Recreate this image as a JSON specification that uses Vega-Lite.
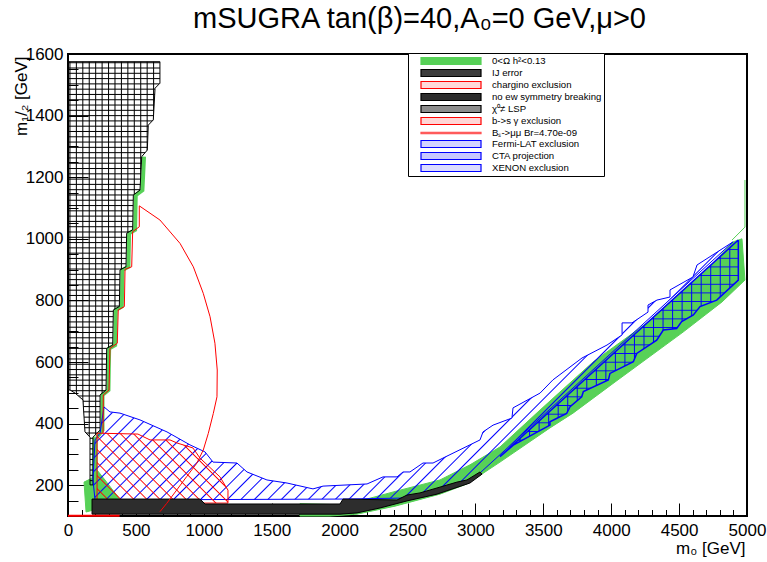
{
  "$schema": "https://vega.github.io/schema/vega-lite/v6.json",
  "width": 679,
  "height": 462,
  "autosize": {"type": "none"},
  "padding": {"left": 68, "top": 54, "right": 20, "bottom": 46},
  "background": "white",
  "title": {
    "text": "mSUGRA tan(β)=40,A₀=0 GeV,μ>0",
    "font": "Liberation Sans",
    "fontSize": 29,
    "fontWeight": "normal",
    "color": "#000",
    "anchor": "middle",
    "frame": "group",
    "baseline": "alphabetic",
    "offset": 22,
    "dx": 12,
    "dy": 34
  },
  "config": {
    "font": "Liberation Sans",
    "view": {"stroke": "#000", "strokeWidth": 2},
    "axis": {
      "domain": false,
      "grid": false,
      "tickColor": "#000",
      "tickWidth": 1,
      "labelFont": "Liberation Sans",
      "labelFontSize": 17,
      "labelColor": "#000",
      "titleFont": "Liberation Sans",
      "titleFontSize": 17,
      "titleFontWeight": "normal",
      "titleColor": "#000",
      "labelOverlap": false,
      "labelFlush": false
    }
  },
  "datasets": {
    "legend": [
      {"label": "0<Ω h²<0.13"},
      {"label": "IJ error"},
      {"label": "chargino exclusion"},
      {"label": "no ew symmetry breaking"},
      {"label": "χ⁰≠ LSP"},
      {"label": "b->s γ exclusion"},
      {"label": "Bₛ->μμ Br=4.70e-09"},
      {"label": "Fermi-LAT exclusion"},
      {"label": "CTA projection"},
      {"label": "XENON exclusion"}
    ],
    "poly": [
      {"r":"band","i":0,"x":1708,"y":140},{"r":"band","i":1,"x":2040,"y":136},{"r":"band","i":2,"x":2445,"y":184},{"r":"band","i":3,"x":2739,"y":217},{"r":"band","i":4,"x":2960,"y":266},{"r":"band","i":5,"x":3181,"y":324},{"r":"band","i":6,"x":3476,"y":444},{"r":"band","i":7,"x":3866,"y":600},{"r":"band","i":8,"x":4264,"y":727},{"r":"band","i":9,"x":4529,"y":834},{"r":"band","i":10,"x":4750,"y":921},{"r":"band","i":11,"x":4897,"y":990},{"r":"band","i":12,"x":4963,"y":1000},{"r":"band","i":13,"x":4985,"y":866},{"r":"band","i":14,"x":4816,"y":795},{"r":"band","i":15,"x":4529,"y":697},{"r":"band","i":16,"x":4028,"y":535},{"r":"band","i":17,"x":3719,"y":434},{"r":"band","i":18,"x":3549,"y":386},{"r":"band","i":19,"x":3181,"y":275},{"r":"band","i":20,"x":2938,"y":204},{"r":"band","i":21,"x":2739,"y":171},{"r":"band","i":22,"x":2408,"y":132},{"r":"band","i":23,"x":2128,"y":106},{"r":"band","i":24,"x":1929,"y":100},{"r":"band","i":25,"x":1708,"y":100},{"r":"band","i":26,"x":1708,"y":140},
      {"r":"greenB","i":0,"x":184,"y":356},{"r":"greenB","i":1,"x":214,"y":356},{"r":"greenB","i":2,"x":214,"y":249},{"r":"greenB","i":3,"x":272,"y":217},{"r":"greenB","i":4,"x":368,"y":162},{"r":"greenB","i":5,"x":383,"y":142},{"r":"greenB","i":6,"x":133,"y":113},{"r":"greenB","i":7,"x":118,"y":210},{"r":"greenB","i":8,"x":177,"y":223},{"r":"greenB","i":9,"x":184,"y":356},
      {"r":"gEdge","i":0,"x":560,"y":1267},{"r":"gEdge","i":1,"x":548,"y":1158},{"r":"gEdge","i":2,"x":499,"y":1142},{"r":"gEdge","i":3,"x":494,"y":1029},{"r":"gEdge","i":4,"x":450,"y":1018},{"r":"gEdge","i":5,"x":445,"y":909},{"r":"gEdge","i":6,"x":401,"y":899},{"r":"gEdge","i":7,"x":396,"y":780},{"r":"gEdge","i":8,"x":352,"y":769},{"r":"gEdge","i":9,"x":347,"y":655},{"r":"gEdge","i":10,"x":303,"y":644},{"r":"gEdge","i":11,"x":298,"y":509},{"r":"gEdge","i":12,"x":254,"y":493},{"r":"gEdge","i":13,"x":254,"y":379},{"r":"gEdge","i":14,"x":214,"y":356},
      {"r":"gThin","i":0,"x":4890,"y":996},{"r":"gThin","i":1,"x":4985,"y":1038},{"r":"gThin","i":2,"x":4985,"y":1191},
      {"r":"IJ","i":0,"x":0,"y":1575},{"r":"IJ","i":1,"x":677,"y":1575},{"r":"IJ","i":2,"x":677,"y":1505},{"r":"IJ","i":3,"x":641,"y":1489},{"r":"IJ","i":4,"x":628,"y":1386},{"r":"IJ","i":5,"x":591,"y":1369},{"r":"IJ","i":6,"x":584,"y":1288},{"r":"IJ","i":7,"x":543,"y":1267},{"r":"IJ","i":8,"x":530,"y":1158},{"r":"IJ","i":9,"x":481,"y":1142},{"r":"IJ","i":10,"x":476,"y":1029},{"r":"IJ","i":11,"x":432,"y":1018},{"r":"IJ","i":12,"x":427,"y":909},{"r":"IJ","i":13,"x":383,"y":899},{"r":"IJ","i":14,"x":378,"y":780},{"r":"IJ","i":15,"x":334,"y":769},{"r":"IJ","i":16,"x":329,"y":655},{"r":"IJ","i":17,"x":285,"y":644},{"r":"IJ","i":18,"x":280,"y":509},{"r":"IJ","i":19,"x":236,"y":493},{"r":"IJ","i":20,"x":236,"y":379},{"r":"IJ","i":21,"x":184,"y":356},{"r":"IJ","i":22,"x":184,"y":201},{"r":"IJ","i":23,"x":162,"y":201},{"r":"IJ","i":24,"x":162,"y":356},{"r":"IJ","i":25,"x":125,"y":373},{"r":"IJ","i":26,"x":110,"y":477},{"r":"IJ","i":27,"x":52,"y":499},{"r":"IJ","i":28,"x":15,"y":509},{"r":"IJ","i":29,"x":0,"y":509},{"r":"IJ","i":30,"x":0,"y":1575},
      {"r":"XENON","i":0,"x":265,"y":454},{"r":"XENON","i":1,"x":309,"y":438},{"r":"XENON","i":2,"x":383,"y":434},{"r":"XENON","i":3,"x":530,"y":412},{"r":"XENON","i":4,"x":729,"y":373},{"r":"XENON","i":5,"x":898,"y":331},{"r":"XENON","i":6,"x":1009,"y":308},{"r":"XENON","i":7,"x":1068,"y":275},{"r":"XENON","i":8,"x":1244,"y":272},{"r":"XENON","i":9,"x":1318,"y":243},{"r":"XENON","i":10,"x":1465,"y":217},{"r":"XENON","i":11,"x":1613,"y":207},{"r":"XENON","i":12,"x":1804,"y":188},{"r":"XENON","i":13,"x":1878,"y":197},{"r":"XENON","i":14,"x":2202,"y":204},{"r":"XENON","i":15,"x":2320,"y":227},{"r":"XENON","i":16,"x":2423,"y":227},{"r":"XENON","i":17,"x":2467,"y":243},{"r":"XENON","i":18,"x":2518,"y":243},{"r":"XENON","i":19,"x":2614,"y":272},{"r":"XENON","i":20,"x":2688,"y":272},{"r":"XENON","i":21,"x":2761,"y":288},{"r":"XENON","i":22,"x":3034,"y":347},{"r":"XENON","i":23,"x":3056,"y":373},{"r":"XENON","i":24,"x":3130,"y":395},{"r":"XENON","i":25,"x":3269,"y":418},{"r":"XENON","i":26,"x":3277,"y":451},{"r":"XENON","i":27,"x":3476,"y":499},{"r":"XENON","i":28,"x":3571,"y":542},{"r":"XENON","i":29,"x":3785,"y":613},{"r":"XENON","i":30,"x":3969,"y":655},{"r":"XENON","i":31,"x":4080,"y":688},{"r":"XENON","i":32,"x":4080,"y":727},{"r":"XENON","i":33,"x":4153,"y":727},{"r":"XENON","i":34,"x":4271,"y":762},{"r":"XENON","i":35,"x":4271,"y":785},{"r":"XENON","i":36,"x":4337,"y":801},{"r":"XENON","i":37,"x":4433,"y":811},{"r":"XENON","i":38,"x":4433,"y":834},{"r":"XENON","i":39,"x":4602,"y":876},{"r":"XENON","i":40,"x":4632,"y":915},{"r":"XENON","i":41,"x":4897,"y":990},{"r":"XENON","i":42,"x":2960,"y":210},{"r":"XENON","i":43,"x":2739,"y":178},{"r":"XENON","i":44,"x":2445,"y":158},{"r":"XENON","i":45,"x":2025,"y":155},{"r":"XENON","i":46,"x":236,"y":152},{"r":"XENON","i":47,"x":199,"y":152},{"r":"XENON","i":48,"x":184,"y":217},{"r":"XENON","i":49,"x":199,"y":347},{"r":"XENON","i":50,"x":236,"y":369},{"r":"XENON","i":51,"x":265,"y":454},
      {"r":"bsg","i":0,"x":214,"y":369},{"r":"bsg","i":1,"x":515,"y":366},{"r":"bsg","i":2,"x":604,"y":347},{"r":"bsg","i":3,"x":751,"y":347},{"r":"bsg","i":4,"x":803,"y":337},{"r":"bsg","i":5,"x":920,"y":321},{"r":"bsg","i":6,"x":972,"y":288},{"r":"bsg","i":7,"x":1119,"y":227},{"r":"bsg","i":8,"x":1178,"y":184},{"r":"bsg","i":9,"x":1178,"y":142},{"r":"bsg","i":10,"x":214,"y":142},{"r":"bsg","i":11,"x":214,"y":369},
      {"r":"Fermi","i":0,"x":4936,"y":996},{"r":"Fermi","i":1,"x":3181,"y":293},{"r":"Fermi","i":2,"x":3279,"y":330},{"r":"Fermi","i":3,"x":3549,"y":395},{"r":"Fermi","i":4,"x":3549,"y":406},{"r":"Fermi","i":5,"x":3672,"y":433},{"r":"Fermi","i":6,"x":3697,"y":455},{"r":"Fermi","i":7,"x":3783,"y":487},{"r":"Fermi","i":8,"x":3795,"y":504},{"r":"Fermi","i":9,"x":3979,"y":542},{"r":"Fermi","i":10,"x":3991,"y":563},{"r":"Fermi","i":11,"x":4163,"y":601},{"r":"Fermi","i":12,"x":4188,"y":628},{"r":"Fermi","i":13,"x":4335,"y":671},{"r":"Fermi","i":14,"x":4384,"y":704},{"r":"Fermi","i":15,"x":4482,"y":709},{"r":"Fermi","i":16,"x":4519,"y":731},{"r":"Fermi","i":17,"x":4605,"y":753},{"r":"Fermi","i":18,"x":4654,"y":780},{"r":"Fermi","i":19,"x":4777,"y":801},{"r":"Fermi","i":20,"x":4936,"y":866},{"r":"Fermi","i":21,"x":4936,"y":996},
      {"r":"CTA","i":0,"x":4936,"y":996},{"r":"CTA","i":1,"x":3181,"y":293},{"r":"CTA","i":2,"x":3279,"y":330},{"r":"CTA","i":3,"x":3549,"y":395},{"r":"CTA","i":4,"x":3549,"y":406},{"r":"CTA","i":5,"x":3672,"y":433},{"r":"CTA","i":6,"x":3697,"y":455},{"r":"CTA","i":7,"x":3783,"y":487},{"r":"CTA","i":8,"x":3795,"y":504},{"r":"CTA","i":9,"x":3979,"y":542},{"r":"CTA","i":10,"x":3991,"y":563},{"r":"CTA","i":11,"x":4163,"y":601},{"r":"CTA","i":12,"x":4188,"y":628},{"r":"CTA","i":13,"x":4335,"y":671},{"r":"CTA","i":14,"x":4384,"y":704},{"r":"CTA","i":15,"x":4482,"y":709},{"r":"CTA","i":16,"x":4519,"y":731},{"r":"CTA","i":17,"x":4605,"y":753},{"r":"CTA","i":18,"x":4654,"y":780},{"r":"CTA","i":19,"x":4777,"y":801},{"r":"CTA","i":20,"x":4936,"y":866},{"r":"CTA","i":21,"x":4936,"y":996},
      {"r":"noEW","i":0,"x":177,"y":155},{"r":"noEW","i":1,"x":972,"y":155},{"r":"noEW","i":2,"x":1009,"y":139},{"r":"noEW","i":3,"x":2003,"y":139},{"r":"noEW","i":4,"x":2025,"y":155},{"r":"noEW","i":5,"x":2423,"y":152},{"r":"noEW","i":6,"x":2496,"y":168},{"r":"noEW","i":7,"x":2592,"y":175},{"r":"noEW","i":8,"x":2717,"y":191},{"r":"noEW","i":9,"x":2864,"y":210},{"r":"noEW","i":10,"x":2938,"y":217},{"r":"noEW","i":11,"x":3034,"y":243},{"r":"noEW","i":12,"x":3049,"y":236},{"r":"noEW","i":13,"x":2960,"y":207},{"r":"noEW","i":14,"x":2717,"y":171},{"r":"noEW","i":15,"x":2496,"y":149},{"r":"noEW","i":16,"x":2297,"y":126},{"r":"noEW","i":17,"x":2128,"y":110},{"r":"noEW","i":18,"x":2003,"y":106},{"r":"noEW","i":19,"x":177,"y":106},{"r":"noEW","i":20,"x":177,"y":155},
      {"r":"Bs","i":0,"x":258,"y":369},{"r":"Bs","i":1,"x":260,"y":493},{"r":"Bs","i":2,"x":302,"y":509},{"r":"Bs","i":3,"x":309,"y":644},{"r":"Bs","i":4,"x":363,"y":661},{"r":"Bs","i":5,"x":370,"y":769},{"r":"Bs","i":6,"x":415,"y":780},{"r":"Bs","i":7,"x":420,"y":901},{"r":"Bs","i":8,"x":469,"y":909},{"r":"Bs","i":9,"x":476,"y":1023},{"r":"Bs","i":10,"x":525,"y":1039},{"r":"Bs","i":11,"x":525,"y":1107},{"r":"Bs","i":12,"x":677,"y":1061},{"r":"Bs","i":13,"x":825,"y":985},{"r":"Bs","i":14,"x":923,"y":909},{"r":"Bs","i":15,"x":996,"y":823},{"r":"Bs","i":16,"x":1046,"y":747},{"r":"Bs","i":17,"x":1082,"y":661},{"r":"Bs","i":18,"x":1099,"y":574},{"r":"Bs","i":19,"x":1097,"y":487},{"r":"Bs","i":20,"x":1070,"y":433},{"r":"Bs","i":21,"x":1033,"y":368},{"r":"Bs","i":22,"x":996,"y":314},{"r":"Bs","i":23,"x":948,"y":271},{"r":"Bs","i":24,"x":874,"y":228},{"r":"Bs","i":25,"x":800,"y":184},{"r":"Bs","i":26,"x":727,"y":141},{"r":"Bs","i":27,"x":677,"y":114},
      {"r":"chargino","i":0,"x":0,"y":101},{"r":"chargino","i":1,"x":380,"y":101}
    ]
  },
  "data": {"name": "poly"},
  "encoding": {
    "x": {
      "field": "x",
      "type": "quantitative",
      "scale": {"domain": [0, 5000], "nice": false, "zero": false},
      "axis": {
        "title": "m₀ [GeV]",
        "values": [0,100,200,300,400,500,600,700,800,900,1000,1100,1200,1300,1400,1500,1600,1700,1800,1900,2000,2100,2200,2300,2400,2500,2600,2700,2800,2900,3000,3100,3200,3300,3400,3500,3600,3700,3800,3900,4000,4100,4200,4300,4400,4500,4600,4700,4800,4900,5000],
        "format": "d",
        "labelExpr": "datum.value % 500 === 0 ? datum.label : ''",
        "tickSize": -13,
        "tickDash": {"condition": {"test": "datum.value % 500 !== 0", "value": [6.5, 40]}, "value": [13, 40]},
        "labelPadding": 19,
        "titleX": 677,
        "titleY": 37,
        "titleAlign": "right",
        "titleBaseline": "alphabetic"
      }
    },
    "y": {
      "field": "y",
      "type": "quantitative",
      "scale": {"domain": [100, 1600], "nice": false, "zero": false},
      "axis": {
        "title": "m₁/₂ [GeV]",
        "values": [100,150,200,250,300,350,400,450,500,550,600,650,700,750,800,850,900,950,1000,1050,1100,1150,1200,1250,1300,1350,1400,1450,1500,1550,1600],
        "format": "d",
        "labelExpr": "datum.value % 200 === 0 ? datum.label : ''",
        "tickSize": -20,
        "tickDash": {"condition": {"test": "datum.value % 200 !== 0", "value": [10, 40]}, "value": [20, 40]},
        "labelPadding": 25,
        "titleX": -42,
        "titleY": 2,
        "titleAngle": 270,
        "titleAlign": "right",
        "titleBaseline": "alphabetic"
      }
    }
  },
  "layer": [
    {
      "transform": [{"filter": "datum.r === 'band'"}],
      "mark": {"type": "line", "fill": "#57d157", "stroke": "#57d157", "strokeWidth": 1},
      "encoding": {"order": {"field": "i", "type": "quantitative"}}
    },
    {
      "transform": [{"filter": "datum.r === 'greenB'"}],
      "mark": {"type": "line", "fill": "#57d157", "stroke": "#57d157", "strokeWidth": 1},
      "encoding": {"order": {"field": "i", "type": "quantitative"}}
    },
    {
      "transform": [{"filter": "datum.r === 'gEdge'"}],
      "mark": {"type": "line", "stroke": "#57d157", "strokeWidth": 4},
      "encoding": {"order": {"field": "i", "type": "quantitative"}}
    },
    {
      "transform": [{"filter": "datum.r === 'gThin'"}],
      "mark": {"type": "line", "stroke": "#57d157", "strokeWidth": 1},
      "encoding": {"order": {"field": "i", "type": "quantitative"}}
    },
    {
      "transform": [{"filter": "datum.r === 'IJ'"}],
      "mark": {
        "type": "line", "stroke": "#000", "strokeWidth": 1,
        "fill": {"gradient": "linear", "x1": 0, "y1": 0, "x2": 1, "y2": 0, "stops": [
          {"offset":0.01,"color":"#0000"},{"offset":0.021,"color":"#000"},{"offset":0.032,"color":"#0000"},
          {"offset":0.08,"color":"#0000"},{"offset":0.091,"color":"#000"},{"offset":0.102,"color":"#0000"},
          {"offset":0.15,"color":"#0000"},{"offset":0.161,"color":"#000"},{"offset":0.172,"color":"#0000"},
          {"offset":0.22,"color":"#0000"},{"offset":0.231,"color":"#000"},{"offset":0.242,"color":"#0000"},
          {"offset":0.29,"color":"#0000"},{"offset":0.301,"color":"#000"},{"offset":0.312,"color":"#0000"},
          {"offset":0.36,"color":"#0000"},{"offset":0.371,"color":"#000"},{"offset":0.382,"color":"#0000"},
          {"offset":0.43,"color":"#0000"},{"offset":0.441,"color":"#000"},{"offset":0.452,"color":"#0000"},
          {"offset":0.5,"color":"#0000"},{"offset":0.511,"color":"#000"},{"offset":0.522,"color":"#0000"},
          {"offset":0.57,"color":"#0000"},{"offset":0.581,"color":"#000"},{"offset":0.592,"color":"#0000"},
          {"offset":0.64,"color":"#0000"},{"offset":0.651,"color":"#000"},{"offset":0.662,"color":"#0000"},
          {"offset":0.71,"color":"#0000"},{"offset":0.721,"color":"#000"},{"offset":0.732,"color":"#0000"},
          {"offset":0.78,"color":"#0000"},{"offset":0.791,"color":"#000"},{"offset":0.802,"color":"#0000"},
          {"offset":0.85,"color":"#0000"},{"offset":0.861,"color":"#000"},{"offset":0.872,"color":"#0000"},
          {"offset":0.92,"color":"#0000"},{"offset":0.931,"color":"#000"},{"offset":0.942,"color":"#0000"}
        ]}
      },
      "encoding": {"order": {"field": "i", "type": "quantitative"}}
    },
    {
      "transform": [{"filter": "datum.r === 'IJ'"}],
      "mark": {
        "type": "line", "strokeOpacity": 0,
        "fill": {"gradient": "linear", "x1": 0, "y1": 0, "x2": 0, "y2": 1, "stops": [
          {"offset":0,"color":"#0000"},{"offset":0.0024,"color":"#000"},{"offset":0.0048,"color":"#0000"},
          {"offset":0.0125,"color":"#0000"},{"offset":0.0149,"color":"#000"},{"offset":0.0173,"color":"#0000"},
          {"offset":0.025,"color":"#0000"},{"offset":0.0274,"color":"#000"},{"offset":0.0298,"color":"#0000"},
          {"offset":0.0375,"color":"#0000"},{"offset":0.0399,"color":"#000"},{"offset":0.0423,"color":"#0000"},
          {"offset":0.05,"color":"#0000"},{"offset":0.0524,"color":"#000"},{"offset":0.0548,"color":"#0000"},
          {"offset":0.0625,"color":"#0000"},{"offset":0.0649,"color":"#000"},{"offset":0.0673,"color":"#0000"},
          {"offset":0.075,"color":"#0000"},{"offset":0.0774,"color":"#000"},{"offset":0.0798,"color":"#0000"},
          {"offset":0.0875,"color":"#0000"},{"offset":0.0899,"color":"#000"},{"offset":0.0923,"color":"#0000"},
          {"offset":0.1,"color":"#0000"},{"offset":0.1024,"color":"#000"},{"offset":0.1048,"color":"#0000"},
          {"offset":0.1125,"color":"#0000"},{"offset":0.1149,"color":"#000"},{"offset":0.1173,"color":"#0000"},
          {"offset":0.125,"color":"#0000"},{"offset":0.1274,"color":"#000"},{"offset":0.1298,"color":"#0000"},
          {"offset":0.1375,"color":"#0000"},{"offset":0.1399,"color":"#000"},{"offset":0.1423,"color":"#0000"},
          {"offset":0.15,"color":"#0000"},{"offset":0.1524,"color":"#000"},{"offset":0.1548,"color":"#0000"},
          {"offset":0.1625,"color":"#0000"},{"offset":0.1649,"color":"#000"},{"offset":0.1673,"color":"#0000"},
          {"offset":0.175,"color":"#0000"},{"offset":0.1774,"color":"#000"},{"offset":0.1798,"color":"#0000"},
          {"offset":0.1875,"color":"#0000"},{"offset":0.1899,"color":"#000"},{"offset":0.1923,"color":"#0000"},
          {"offset":0.2,"color":"#0000"},{"offset":0.2024,"color":"#000"},{"offset":0.2048,"color":"#0000"},
          {"offset":0.2125,"color":"#0000"},{"offset":0.2149,"color":"#000"},{"offset":0.2173,"color":"#0000"},
          {"offset":0.225,"color":"#0000"},{"offset":0.2274,"color":"#000"},{"offset":0.2298,"color":"#0000"},
          {"offset":0.2375,"color":"#0000"},{"offset":0.2399,"color":"#000"},{"offset":0.2423,"color":"#0000"},
          {"offset":0.25,"color":"#0000"},{"offset":0.2524,"color":"#000"},{"offset":0.2548,"color":"#0000"},
          {"offset":0.2625,"color":"#0000"},{"offset":0.2649,"color":"#000"},{"offset":0.2673,"color":"#0000"},
          {"offset":0.275,"color":"#0000"},{"offset":0.2774,"color":"#000"},{"offset":0.2798,"color":"#0000"},
          {"offset":0.2875,"color":"#0000"},{"offset":0.2899,"color":"#000"},{"offset":0.2923,"color":"#0000"},
          {"offset":0.3,"color":"#0000"},{"offset":0.3024,"color":"#000"},{"offset":0.3048,"color":"#0000"},
          {"offset":0.3125,"color":"#0000"},{"offset":0.3149,"color":"#000"},{"offset":0.3173,"color":"#0000"},
          {"offset":0.325,"color":"#0000"},{"offset":0.3274,"color":"#000"},{"offset":0.3298,"color":"#0000"},
          {"offset":0.3375,"color":"#0000"},{"offset":0.3399,"color":"#000"},{"offset":0.3423,"color":"#0000"},
          {"offset":0.35,"color":"#0000"},{"offset":0.3524,"color":"#000"},{"offset":0.3548,"color":"#0000"},
          {"offset":0.3625,"color":"#0000"},{"offset":0.3649,"color":"#000"},{"offset":0.3673,"color":"#0000"},
          {"offset":0.375,"color":"#0000"},{"offset":0.3774,"color":"#000"},{"offset":0.3798,"color":"#0000"},
          {"offset":0.3875,"color":"#0000"},{"offset":0.3899,"color":"#000"},{"offset":0.3923,"color":"#0000"},
          {"offset":0.4,"color":"#0000"},{"offset":0.4024,"color":"#000"},{"offset":0.4048,"color":"#0000"},
          {"offset":0.4125,"color":"#0000"},{"offset":0.4149,"color":"#000"},{"offset":0.4173,"color":"#0000"},
          {"offset":0.425,"color":"#0000"},{"offset":0.4274,"color":"#000"},{"offset":0.4298,"color":"#0000"},
          {"offset":0.4375,"color":"#0000"},{"offset":0.4399,"color":"#000"},{"offset":0.4423,"color":"#0000"},
          {"offset":0.45,"color":"#0000"},{"offset":0.4524,"color":"#000"},{"offset":0.4548,"color":"#0000"},
          {"offset":0.4625,"color":"#0000"},{"offset":0.4649,"color":"#000"},{"offset":0.4673,"color":"#0000"},
          {"offset":0.475,"color":"#0000"},{"offset":0.4774,"color":"#000"},{"offset":0.4798,"color":"#0000"},
          {"offset":0.4875,"color":"#0000"},{"offset":0.4899,"color":"#000"},{"offset":0.4923,"color":"#0000"},
          {"offset":0.5,"color":"#0000"},{"offset":0.5024,"color":"#000"},{"offset":0.5048,"color":"#0000"},
          {"offset":0.5125,"color":"#0000"},{"offset":0.5149,"color":"#000"},{"offset":0.5173,"color":"#0000"},
          {"offset":0.525,"color":"#0000"},{"offset":0.5274,"color":"#000"},{"offset":0.5298,"color":"#0000"},
          {"offset":0.5375,"color":"#0000"},{"offset":0.5399,"color":"#000"},{"offset":0.5423,"color":"#0000"},
          {"offset":0.55,"color":"#0000"},{"offset":0.5524,"color":"#000"},{"offset":0.5548,"color":"#0000"},
          {"offset":0.5625,"color":"#0000"},{"offset":0.5649,"color":"#000"},{"offset":0.5673,"color":"#0000"},
          {"offset":0.575,"color":"#0000"},{"offset":0.5774,"color":"#000"},{"offset":0.5798,"color":"#0000"},
          {"offset":0.5875,"color":"#0000"},{"offset":0.5899,"color":"#000"},{"offset":0.5923,"color":"#0000"},
          {"offset":0.6,"color":"#0000"},{"offset":0.6024,"color":"#000"},{"offset":0.6048,"color":"#0000"},
          {"offset":0.6125,"color":"#0000"},{"offset":0.6149,"color":"#000"},{"offset":0.6173,"color":"#0000"},
          {"offset":0.625,"color":"#0000"},{"offset":0.6274,"color":"#000"},{"offset":0.6298,"color":"#0000"},
          {"offset":0.6375,"color":"#0000"},{"offset":0.6399,"color":"#000"},{"offset":0.6423,"color":"#0000"},
          {"offset":0.65,"color":"#0000"},{"offset":0.6524,"color":"#000"},{"offset":0.6548,"color":"#0000"},
          {"offset":0.6625,"color":"#0000"},{"offset":0.6649,"color":"#000"},{"offset":0.6673,"color":"#0000"},
          {"offset":0.675,"color":"#0000"},{"offset":0.6774,"color":"#000"},{"offset":0.6798,"color":"#0000"},
          {"offset":0.6875,"color":"#0000"},{"offset":0.6899,"color":"#000"},{"offset":0.6923,"color":"#0000"},
          {"offset":0.7,"color":"#0000"},{"offset":0.7024,"color":"#000"},{"offset":0.7048,"color":"#0000"},
          {"offset":0.7125,"color":"#0000"},{"offset":0.7149,"color":"#000"},{"offset":0.7173,"color":"#0000"},
          {"offset":0.725,"color":"#0000"},{"offset":0.7274,"color":"#000"},{"offset":0.7298,"color":"#0000"},
          {"offset":0.7375,"color":"#0000"},{"offset":0.7399,"color":"#000"},{"offset":0.7423,"color":"#0000"},
          {"offset":0.75,"color":"#0000"},{"offset":0.7524,"color":"#000"},{"offset":0.7548,"color":"#0000"},
          {"offset":0.7625,"color":"#0000"},{"offset":0.7649,"color":"#000"},{"offset":0.7673,"color":"#0000"},
          {"offset":0.775,"color":"#0000"},{"offset":0.7774,"color":"#000"},{"offset":0.7798,"color":"#0000"},
          {"offset":0.7875,"color":"#0000"},{"offset":0.7899,"color":"#000"},{"offset":0.7923,"color":"#0000"},
          {"offset":0.8,"color":"#0000"},{"offset":0.8024,"color":"#000"},{"offset":0.8048,"color":"#0000"},
          {"offset":0.8125,"color":"#0000"},{"offset":0.8149,"color":"#000"},{"offset":0.8173,"color":"#0000"},
          {"offset":0.825,"color":"#0000"},{"offset":0.8274,"color":"#000"},{"offset":0.8298,"color":"#0000"},
          {"offset":0.8375,"color":"#0000"},{"offset":0.8399,"color":"#000"},{"offset":0.8423,"color":"#0000"},
          {"offset":0.85,"color":"#0000"},{"offset":0.8524,"color":"#000"},{"offset":0.8548,"color":"#0000"},
          {"offset":0.8625,"color":"#0000"},{"offset":0.8649,"color":"#000"},{"offset":0.8673,"color":"#0000"},
          {"offset":0.875,"color":"#0000"},{"offset":0.8774,"color":"#000"},{"offset":0.8798,"color":"#0000"},
          {"offset":0.8875,"color":"#0000"},{"offset":0.8899,"color":"#000"},{"offset":0.8923,"color":"#0000"},
          {"offset":0.9,"color":"#0000"},{"offset":0.9024,"color":"#000"},{"offset":0.9048,"color":"#0000"},
          {"offset":0.9125,"color":"#0000"},{"offset":0.9149,"color":"#000"},{"offset":0.9173,"color":"#0000"},
          {"offset":0.925,"color":"#0000"},{"offset":0.9274,"color":"#000"},{"offset":0.9298,"color":"#0000"},
          {"offset":0.9375,"color":"#0000"},{"offset":0.9399,"color":"#000"},{"offset":0.9423,"color":"#0000"},
          {"offset":0.95,"color":"#0000"},{"offset":0.9524,"color":"#000"},{"offset":0.9548,"color":"#0000"},
          {"offset":0.9625,"color":"#0000"},{"offset":0.9649,"color":"#000"},{"offset":0.9673,"color":"#0000"},
          {"offset":0.975,"color":"#0000"},{"offset":0.9774,"color":"#000"},{"offset":0.9798,"color":"#0000"},
          {"offset":0.9875,"color":"#0000"},{"offset":0.9899,"color":"#000"},{"offset":0.9923,"color":"#0000"}
        ]}
      },
      "encoding": {"order": {"field": "i", "type": "quantitative"}}
    },
    {
      "transform": [{"filter": "datum.r === 'XENON'"}],
      "mark": {
        "type": "line", "stroke": "#00f", "strokeWidth": 1,
        "fill": {"gradient": "linear", "x1": 0, "y1": 0, "x2": 1.207, "y2": 0.487, "stops": [
          {"offset":0,"color":"#00f0"},{"offset":0.0016,"color":"#00f"},{"offset":0.0032,"color":"#00f0"},
          {"offset":0.015,"color":"#00f0"},{"offset":0.0166,"color":"#00f"},{"offset":0.0182,"color":"#00f0"},
          {"offset":0.03,"color":"#00f0"},{"offset":0.0316,"color":"#00f"},{"offset":0.0332,"color":"#00f0"},
          {"offset":0.045,"color":"#00f0"},{"offset":0.0466,"color":"#00f"},{"offset":0.0482,"color":"#00f0"},
          {"offset":0.06,"color":"#00f0"},{"offset":0.0616,"color":"#00f"},{"offset":0.0632,"color":"#00f0"},
          {"offset":0.075,"color":"#00f0"},{"offset":0.0766,"color":"#00f"},{"offset":0.0782,"color":"#00f0"},
          {"offset":0.09,"color":"#00f0"},{"offset":0.0916,"color":"#00f"},{"offset":0.0932,"color":"#00f0"},
          {"offset":0.105,"color":"#00f0"},{"offset":0.1066,"color":"#00f"},{"offset":0.1082,"color":"#00f0"},
          {"offset":0.12,"color":"#00f0"},{"offset":0.1216,"color":"#00f"},{"offset":0.1232,"color":"#00f0"},
          {"offset":0.135,"color":"#00f0"},{"offset":0.1366,"color":"#00f"},{"offset":0.1382,"color":"#00f0"},
          {"offset":0.15,"color":"#00f0"},{"offset":0.1516,"color":"#00f"},{"offset":0.1532,"color":"#00f0"},
          {"offset":0.165,"color":"#00f0"},{"offset":0.1666,"color":"#00f"},{"offset":0.1682,"color":"#00f0"},
          {"offset":0.18,"color":"#00f0"},{"offset":0.1816,"color":"#00f"},{"offset":0.1832,"color":"#00f0"},
          {"offset":0.195,"color":"#00f0"},{"offset":0.1966,"color":"#00f"},{"offset":0.1982,"color":"#00f0"},
          {"offset":0.21,"color":"#00f0"},{"offset":0.2116,"color":"#00f"},{"offset":0.2132,"color":"#00f0"},
          {"offset":0.225,"color":"#00f0"},{"offset":0.2266,"color":"#00f"},{"offset":0.2282,"color":"#00f0"},
          {"offset":0.24,"color":"#00f0"},{"offset":0.2416,"color":"#00f"},{"offset":0.2432,"color":"#00f0"},
          {"offset":0.255,"color":"#00f0"},{"offset":0.2566,"color":"#00f"},{"offset":0.2582,"color":"#00f0"},
          {"offset":0.27,"color":"#00f0"},{"offset":0.2716,"color":"#00f"},{"offset":0.2732,"color":"#00f0"},
          {"offset":0.285,"color":"#00f0"},{"offset":0.2866,"color":"#00f"},{"offset":0.2882,"color":"#00f0"},
          {"offset":0.3,"color":"#00f0"},{"offset":0.3016,"color":"#00f"},{"offset":0.3032,"color":"#00f0"},
          {"offset":0.315,"color":"#00f0"},{"offset":0.3166,"color":"#00f"},{"offset":0.3182,"color":"#00f0"},
          {"offset":0.33,"color":"#00f0"},{"offset":0.3316,"color":"#00f"},{"offset":0.3332,"color":"#00f0"},
          {"offset":0.345,"color":"#00f0"},{"offset":0.3466,"color":"#00f"},{"offset":0.3482,"color":"#00f0"},
          {"offset":0.36,"color":"#00f0"},{"offset":0.3616,"color":"#00f"},{"offset":0.3632,"color":"#00f0"},
          {"offset":0.375,"color":"#00f0"},{"offset":0.3766,"color":"#00f"},{"offset":0.3782,"color":"#00f0"},
          {"offset":0.39,"color":"#00f0"},{"offset":0.3916,"color":"#00f"},{"offset":0.3932,"color":"#00f0"},
          {"offset":0.405,"color":"#00f0"},{"offset":0.4066,"color":"#00f"},{"offset":0.4082,"color":"#00f0"},
          {"offset":0.42,"color":"#00f0"},{"offset":0.4216,"color":"#00f"},{"offset":0.4232,"color":"#00f0"},
          {"offset":0.435,"color":"#00f0"},{"offset":0.4366,"color":"#00f"},{"offset":0.4382,"color":"#00f0"},
          {"offset":0.45,"color":"#00f0"},{"offset":0.4516,"color":"#00f"},{"offset":0.4532,"color":"#00f0"},
          {"offset":0.465,"color":"#00f0"},{"offset":0.4666,"color":"#00f"},{"offset":0.4682,"color":"#00f0"},
          {"offset":0.48,"color":"#00f0"},{"offset":0.4816,"color":"#00f"},{"offset":0.4832,"color":"#00f0"},
          {"offset":0.495,"color":"#00f0"},{"offset":0.4966,"color":"#00f"},{"offset":0.4982,"color":"#00f0"},
          {"offset":0.51,"color":"#00f0"},{"offset":0.5116,"color":"#00f"},{"offset":0.5132,"color":"#00f0"},
          {"offset":0.525,"color":"#00f0"},{"offset":0.5266,"color":"#00f"},{"offset":0.5282,"color":"#00f0"},
          {"offset":0.54,"color":"#00f0"},{"offset":0.5416,"color":"#00f"},{"offset":0.5432,"color":"#00f0"},
          {"offset":0.555,"color":"#00f0"},{"offset":0.5566,"color":"#00f"},{"offset":0.5582,"color":"#00f0"},
          {"offset":0.57,"color":"#00f0"},{"offset":0.5716,"color":"#00f"},{"offset":0.5732,"color":"#00f0"},
          {"offset":0.585,"color":"#00f0"},{"offset":0.5866,"color":"#00f"},{"offset":0.5882,"color":"#00f0"},
          {"offset":0.6,"color":"#00f0"},{"offset":0.6016,"color":"#00f"},{"offset":0.6032,"color":"#00f0"},
          {"offset":0.615,"color":"#00f0"},{"offset":0.6166,"color":"#00f"},{"offset":0.6182,"color":"#00f0"},
          {"offset":0.63,"color":"#00f0"},{"offset":0.6316,"color":"#00f"},{"offset":0.6332,"color":"#00f0"},
          {"offset":0.645,"color":"#00f0"},{"offset":0.6466,"color":"#00f"},{"offset":0.6482,"color":"#00f0"},
          {"offset":0.66,"color":"#00f0"},{"offset":0.6616,"color":"#00f"},{"offset":0.6632,"color":"#00f0"},
          {"offset":0.675,"color":"#00f0"},{"offset":0.6766,"color":"#00f"},{"offset":0.6782,"color":"#00f0"},
          {"offset":0.69,"color":"#00f0"},{"offset":0.6916,"color":"#00f"},{"offset":0.6932,"color":"#00f0"},
          {"offset":0.705,"color":"#00f0"},{"offset":0.7066,"color":"#00f"},{"offset":0.7082,"color":"#00f0"},
          {"offset":0.72,"color":"#00f0"},{"offset":0.7216,"color":"#00f"},{"offset":0.7232,"color":"#00f0"},
          {"offset":0.735,"color":"#00f0"},{"offset":0.7366,"color":"#00f"},{"offset":0.7382,"color":"#00f0"},
          {"offset":0.75,"color":"#00f0"},{"offset":0.7516,"color":"#00f"},{"offset":0.7532,"color":"#00f0"},
          {"offset":0.765,"color":"#00f0"},{"offset":0.7666,"color":"#00f"},{"offset":0.7682,"color":"#00f0"},
          {"offset":0.78,"color":"#00f0"},{"offset":0.7816,"color":"#00f"},{"offset":0.7832,"color":"#00f0"},
          {"offset":0.795,"color":"#00f0"},{"offset":0.7966,"color":"#00f"},{"offset":0.7982,"color":"#00f0"},
          {"offset":0.81,"color":"#00f0"},{"offset":0.8116,"color":"#00f"},{"offset":0.8132,"color":"#00f0"},
          {"offset":0.825,"color":"#00f0"},{"offset":0.8266,"color":"#00f"},{"offset":0.8282,"color":"#00f0"},
          {"offset":0.84,"color":"#00f0"},{"offset":0.8416,"color":"#00f"},{"offset":0.8432,"color":"#00f0"},
          {"offset":0.855,"color":"#00f0"},{"offset":0.8566,"color":"#00f"},{"offset":0.8582,"color":"#00f0"},
          {"offset":0.87,"color":"#00f0"},{"offset":0.8716,"color":"#00f"},{"offset":0.8732,"color":"#00f0"},
          {"offset":0.885,"color":"#00f0"},{"offset":0.8866,"color":"#00f"},{"offset":0.8882,"color":"#00f0"},
          {"offset":0.9,"color":"#00f0"},{"offset":0.9016,"color":"#00f"},{"offset":0.9032,"color":"#00f0"},
          {"offset":0.915,"color":"#00f0"},{"offset":0.9166,"color":"#00f"},{"offset":0.9182,"color":"#00f0"},
          {"offset":0.93,"color":"#00f0"},{"offset":0.9316,"color":"#00f"},{"offset":0.9332,"color":"#00f0"},
          {"offset":0.945,"color":"#00f0"},{"offset":0.9466,"color":"#00f"},{"offset":0.9482,"color":"#00f0"},
          {"offset":0.96,"color":"#00f0"},{"offset":0.9616,"color":"#00f"},{"offset":0.9632,"color":"#00f0"},
          {"offset":0.975,"color":"#00f0"},{"offset":0.9766,"color":"#00f"},{"offset":0.9782,"color":"#00f0"},
          {"offset":0.99,"color":"#00f0"},{"offset":0.9916,"color":"#00f"},{"offset":0.9932,"color":"#00f0"}
        ]}
      },
      "encoding": {"order": {"field": "i", "type": "quantitative"}}
    },
    {
      "transform": [{"filter": "datum.r === 'bsg'"}],
      "mark": {
        "type": "line", "stroke": "#f00", "strokeWidth": 1,
        "fill": {"gradient": "linear", "x1": 0, "y1": 1, "x2": 1.194, "y2": 0.362, "stops": [
          {"offset":0,"color":"#f000"},{"offset":0.0065,"color":"#f00"},{"offset":0.013,"color":"#f000"},
          {"offset":0.065,"color":"#f000"},{"offset":0.0715,"color":"#f00"},{"offset":0.078,"color":"#f000"},
          {"offset":0.13,"color":"#f000"},{"offset":0.1365,"color":"#f00"},{"offset":0.143,"color":"#f000"},
          {"offset":0.195,"color":"#f000"},{"offset":0.2015,"color":"#f00"},{"offset":0.208,"color":"#f000"},
          {"offset":0.26,"color":"#f000"},{"offset":0.2665,"color":"#f00"},{"offset":0.273,"color":"#f000"},
          {"offset":0.325,"color":"#f000"},{"offset":0.3315,"color":"#f00"},{"offset":0.338,"color":"#f000"},
          {"offset":0.39,"color":"#f000"},{"offset":0.3965,"color":"#f00"},{"offset":0.403,"color":"#f000"},
          {"offset":0.455,"color":"#f000"},{"offset":0.4615,"color":"#f00"},{"offset":0.468,"color":"#f000"},
          {"offset":0.52,"color":"#f000"},{"offset":0.5265,"color":"#f00"},{"offset":0.533,"color":"#f000"},
          {"offset":0.585,"color":"#f000"},{"offset":0.5915,"color":"#f00"},{"offset":0.598,"color":"#f000"},
          {"offset":0.65,"color":"#f000"},{"offset":0.6565,"color":"#f00"},{"offset":0.663,"color":"#f000"},
          {"offset":0.715,"color":"#f000"},{"offset":0.7215,"color":"#f00"},{"offset":0.728,"color":"#f000"},
          {"offset":0.78,"color":"#f000"},{"offset":0.7865,"color":"#f00"},{"offset":0.793,"color":"#f000"},
          {"offset":0.845,"color":"#f000"},{"offset":0.8515,"color":"#f00"},{"offset":0.858,"color":"#f000"},
          {"offset":0.91,"color":"#f000"},{"offset":0.9165,"color":"#f00"},{"offset":0.923,"color":"#f000"},
          {"offset":0.975,"color":"#f000"},{"offset":0.9815,"color":"#f00"},{"offset":0.988,"color":"#f000"}
        ]}
      },
      "encoding": {"order": {"field": "i", "type": "quantitative"}}
    },
    {
      "transform": [{"filter": "datum.r === 'Fermi'"}],
      "mark": {
        "type": "line", "stroke": "#00f", "strokeWidth": 1.5,
        "fill": {"gradient": "linear", "x1": 0, "y1": 0, "x2": 1, "y2": 0, "stops": [
          {"offset":0,"color":"#00f0"},{"offset":0.0042,"color":"#00f"},{"offset":0.0084,"color":"#00f0"},
          {"offset":0.04,"color":"#00f0"},{"offset":0.0442,"color":"#00f"},{"offset":0.0484,"color":"#00f0"},
          {"offset":0.08,"color":"#00f0"},{"offset":0.0842,"color":"#00f"},{"offset":0.0884,"color":"#00f0"},
          {"offset":0.12,"color":"#00f0"},{"offset":0.1242,"color":"#00f"},{"offset":0.1284,"color":"#00f0"},
          {"offset":0.16,"color":"#00f0"},{"offset":0.1642,"color":"#00f"},{"offset":0.1684,"color":"#00f0"},
          {"offset":0.2,"color":"#00f0"},{"offset":0.2042,"color":"#00f"},{"offset":0.2084,"color":"#00f0"},
          {"offset":0.24,"color":"#00f0"},{"offset":0.2442,"color":"#00f"},{"offset":0.2484,"color":"#00f0"},
          {"offset":0.28,"color":"#00f0"},{"offset":0.2842,"color":"#00f"},{"offset":0.2884,"color":"#00f0"},
          {"offset":0.32,"color":"#00f0"},{"offset":0.3242,"color":"#00f"},{"offset":0.3284,"color":"#00f0"},
          {"offset":0.36,"color":"#00f0"},{"offset":0.3642,"color":"#00f"},{"offset":0.3684,"color":"#00f0"},
          {"offset":0.4,"color":"#00f0"},{"offset":0.4042,"color":"#00f"},{"offset":0.4084,"color":"#00f0"},
          {"offset":0.44,"color":"#00f0"},{"offset":0.4442,"color":"#00f"},{"offset":0.4484,"color":"#00f0"},
          {"offset":0.48,"color":"#00f0"},{"offset":0.4842,"color":"#00f"},{"offset":0.4884,"color":"#00f0"},
          {"offset":0.52,"color":"#00f0"},{"offset":0.5242,"color":"#00f"},{"offset":0.5284,"color":"#00f0"},
          {"offset":0.56,"color":"#00f0"},{"offset":0.5642,"color":"#00f"},{"offset":0.5684,"color":"#00f0"},
          {"offset":0.6,"color":"#00f0"},{"offset":0.6042,"color":"#00f"},{"offset":0.6084,"color":"#00f0"},
          {"offset":0.64,"color":"#00f0"},{"offset":0.6442,"color":"#00f"},{"offset":0.6484,"color":"#00f0"},
          {"offset":0.68,"color":"#00f0"},{"offset":0.6842,"color":"#00f"},{"offset":0.6884,"color":"#00f0"},
          {"offset":0.72,"color":"#00f0"},{"offset":0.7242,"color":"#00f"},{"offset":0.7284,"color":"#00f0"},
          {"offset":0.76,"color":"#00f0"},{"offset":0.7642,"color":"#00f"},{"offset":0.7684,"color":"#00f0"},
          {"offset":0.8,"color":"#00f0"},{"offset":0.8042,"color":"#00f"},{"offset":0.8084,"color":"#00f0"},
          {"offset":0.84,"color":"#00f0"},{"offset":0.8442,"color":"#00f"},{"offset":0.8484,"color":"#00f0"},
          {"offset":0.88,"color":"#00f0"},{"offset":0.8842,"color":"#00f"},{"offset":0.8884,"color":"#00f0"},
          {"offset":0.92,"color":"#00f0"},{"offset":0.9242,"color":"#00f"},{"offset":0.9284,"color":"#00f0"},
          {"offset":0.96,"color":"#00f0"},{"offset":0.9642,"color":"#00f"},{"offset":0.9684,"color":"#00f0"}
        ]}
      },
      "encoding": {"order": {"field": "i", "type": "quantitative"}}
    },
    {
      "transform": [{"filter": "datum.r === 'CTA'"}],
      "mark": {
        "type": "line", "strokeOpacity": 0,
        "fill": {"gradient": "linear", "x1": 0, "y1": 0, "x2": 0, "y2": 1, "stops": [
          {"offset":0,"color":"#00f0"},{"offset":0.0042,"color":"#00f"},{"offset":0.0084,"color":"#00f0"},
          {"offset":0.04,"color":"#00f0"},{"offset":0.0442,"color":"#00f"},{"offset":0.0484,"color":"#00f0"},
          {"offset":0.08,"color":"#00f0"},{"offset":0.0842,"color":"#00f"},{"offset":0.0884,"color":"#00f0"},
          {"offset":0.12,"color":"#00f0"},{"offset":0.1242,"color":"#00f"},{"offset":0.1284,"color":"#00f0"},
          {"offset":0.16,"color":"#00f0"},{"offset":0.1642,"color":"#00f"},{"offset":0.1684,"color":"#00f0"},
          {"offset":0.2,"color":"#00f0"},{"offset":0.2042,"color":"#00f"},{"offset":0.2084,"color":"#00f0"},
          {"offset":0.24,"color":"#00f0"},{"offset":0.2442,"color":"#00f"},{"offset":0.2484,"color":"#00f0"},
          {"offset":0.28,"color":"#00f0"},{"offset":0.2842,"color":"#00f"},{"offset":0.2884,"color":"#00f0"},
          {"offset":0.32,"color":"#00f0"},{"offset":0.3242,"color":"#00f"},{"offset":0.3284,"color":"#00f0"},
          {"offset":0.36,"color":"#00f0"},{"offset":0.3642,"color":"#00f"},{"offset":0.3684,"color":"#00f0"},
          {"offset":0.4,"color":"#00f0"},{"offset":0.4042,"color":"#00f"},{"offset":0.4084,"color":"#00f0"},
          {"offset":0.44,"color":"#00f0"},{"offset":0.4442,"color":"#00f"},{"offset":0.4484,"color":"#00f0"},
          {"offset":0.48,"color":"#00f0"},{"offset":0.4842,"color":"#00f"},{"offset":0.4884,"color":"#00f0"},
          {"offset":0.52,"color":"#00f0"},{"offset":0.5242,"color":"#00f"},{"offset":0.5284,"color":"#00f0"},
          {"offset":0.56,"color":"#00f0"},{"offset":0.5642,"color":"#00f"},{"offset":0.5684,"color":"#00f0"},
          {"offset":0.6,"color":"#00f0"},{"offset":0.6042,"color":"#00f"},{"offset":0.6084,"color":"#00f0"},
          {"offset":0.64,"color":"#00f0"},{"offset":0.6442,"color":"#00f"},{"offset":0.6484,"color":"#00f0"},
          {"offset":0.68,"color":"#00f0"},{"offset":0.6842,"color":"#00f"},{"offset":0.6884,"color":"#00f0"},
          {"offset":0.72,"color":"#00f0"},{"offset":0.7242,"color":"#00f"},{"offset":0.7284,"color":"#00f0"},
          {"offset":0.76,"color":"#00f0"},{"offset":0.7642,"color":"#00f"},{"offset":0.7684,"color":"#00f0"},
          {"offset":0.8,"color":"#00f0"},{"offset":0.8042,"color":"#00f"},{"offset":0.8084,"color":"#00f0"},
          {"offset":0.84,"color":"#00f0"},{"offset":0.8442,"color":"#00f"},{"offset":0.8484,"color":"#00f0"},
          {"offset":0.88,"color":"#00f0"},{"offset":0.8842,"color":"#00f"},{"offset":0.8884,"color":"#00f0"},
          {"offset":0.92,"color":"#00f0"},{"offset":0.9242,"color":"#00f"},{"offset":0.9284,"color":"#00f0"},
          {"offset":0.96,"color":"#00f0"},{"offset":0.9642,"color":"#00f"},{"offset":0.9684,"color":"#00f0"}
        ]}
      },
      "encoding": {"order": {"field": "i", "type": "quantitative"}}
    },
    {
      "transform": [{"filter": "datum.r === 'noEW'"}],
      "mark": {"type": "line", "fill": "#2d2d2d", "stroke": "#000", "strokeWidth": 1},
      "encoding": {"order": {"field": "i", "type": "quantitative"}}
    },
    {
      "transform": [{"filter": "datum.r === 'Bs'"}],
      "mark": {"type": "line", "stroke": "#f00", "strokeWidth": 1},
      "encoding": {"order": {"field": "i", "type": "quantitative"}}
    },
    {
      "transform": [{"filter": "datum.r === 'chargino'"}],
      "mark": {"type": "line", "stroke": "#f00", "strokeWidth": 2},
      "encoding": {"order": {"field": "i", "type": "quantitative"}}
    },
    {
      "data": {"name": "legend"},
      "mark": {"type": "point", "filled": true, "opacity": 1},
      "encoding": {
        "fill": {
          "field": "label", "type": "nominal",
          "scale": {
            "domain": ["0<Ω h²<0.13", "IJ error", "chargino exclusion", "no ew symmetry breaking", "χ⁰≠ LSP", "b->s γ exclusion", "Bₛ->μμ Br=4.70e-09", "Fermi-LAT exclusion", "CTA projection", "XENON exclusion"],
            "range": ["#57d157", "#3c3c3c", "#ffd9d9", "#2d2d2d", "#8c8c8c", "#ffd6d6", "#ff5050", "#d4d4ff", "#c8c8ff", "#dcdcff"]
          },
          "legend": {
            "title": null,
            "orient": "none",
            "legendX": 340,
            "legendY": -1,
            "padding": 2,
            "fillColor": "#fff",
            "strokeColor": "#000",
            "symbolSize": 100,
            "symbolOffset": 35,
            "symbolStrokeWidth": 1.2,
            "symbolOpacity": 1,
            "labelFont": "Liberation Sans",
            "labelFontSize": 9.6,
            "labelColor": "#000",
            "labelOffset": 35,
            "labelLimit": 300,
            "rowPadding": 0
          }
        },
        "stroke": {
          "field": "label", "type": "nominal",
          "scale": {
            "domain": ["0<Ω h²<0.13", "IJ error", "chargino exclusion", "no ew symmetry breaking", "χ⁰≠ LSP", "b->s γ exclusion", "Bₛ->μμ Br=4.70e-09", "Fermi-LAT exclusion", "CTA projection", "XENON exclusion"],
            "range": ["#57d157", "#000", "#f00", "#000", "#000", "#f00", "#ff5050", "#00f", "#00f", "#00f"]
          }
        },
        "shape": {
          "field": "label", "type": "nominal",
          "scale": {
            "domain": ["0<Ω h²<0.13", "IJ error", "chargino exclusion", "no ew symmetry breaking", "χ⁰≠ LSP", "b->s γ exclusion", "Bₛ->μμ Br=4.70e-09", "Fermi-LAT exclusion", "CTA projection", "XENON exclusion"],
            "range": ["M-6,-0.7H6V0.7H-6Z", "M-6,-0.7H6V0.7H-6Z", "M-6,-0.7H6V0.7H-6Z", "M-6,-0.7H6V0.7H-6Z", "M-6,-0.7H6V0.7H-6Z", "M-6,-0.7H6V0.7H-6Z", "M-6,-0.15H6V0.15H-6Z", "M-6,-0.7H6V0.7H-6Z", "M-6,-0.7H6V0.7H-6Z", "M-6,-0.7H6V0.7H-6Z"]
          }
        }
      }
    }
  ]
}
